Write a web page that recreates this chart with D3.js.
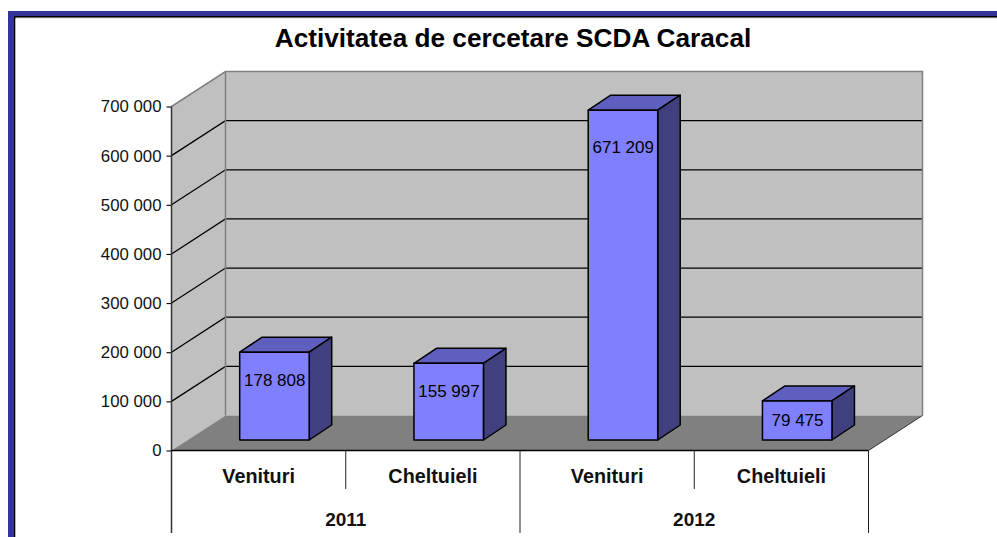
<!DOCTYPE html>
<html><head><meta charset="utf-8">
<script src="https://cdn.jsdelivr.net/npm/d3@7"></script>
<style>html,body{margin:0;padding:0;background:#fff;overflow:hidden}svg{display:block}text{font-family:"Liberation Sans",Arial,sans-serif}</style>
</head><body>
<svg id="c" width="997" height="537"></svg>
<script>
const titleText = "Activitatea de cercetare SCDA Caracal";
const years = ["2011", "2012"];
const measures = ["Venituri", "Cheltuieli", "Venituri", "Cheltuieli"];
const yearOf = ["2011", "2011", "2012", "2012"];
const values = [178808, 155997, 671209, 79475];
const valueLabels = ["178 808", "155 997", "671 209", "79 475"];
const yTicks = [0, 100000, 200000, 300000, 400000, 500000, 600000, 700000];

const svg = d3.select("#c");
const ox = 171.5, xEnd = 868.5, yBase = 450.5, yTop = 106.5, depthX = 54, depthY = -35;
const barW = 69.5, barDX = 22.5, barDY = -15, barOffX = 68.2, barOffY = -10.5;

const idx = d3.range(values.length);
const x = d3.scaleBand().domain(idx).range([ox, xEnd]);
const y = d3.scaleLinear().domain([0, 700000]).range([yBase, yTop]);
const fmt = v => d3.format(",")(v).replace(/,/g, " ");
const poly = pts => pts.map(p => p.join(",")).join(" ");

// frame
svg.append("rect").attr("x", 8).attr("y", 11).attr("width", 989).attr("height", 526).attr("fill", "#333399");
svg.append("rect").attr("x", 14).attr("y", 16).attr("width", 983).attr("height", 521).attr("fill", "#000");
svg.append("rect").attr("x", 15.5).attr("y", 17.5).attr("width", 982).attr("height", 520).attr("fill", "#d8d8d8");
svg.append("rect").attr("x", 15.5).attr("y", 18.5).attr("width", 982).attr("height", 519).attr("fill", "#fff");

svg.append("text").attr("x", 513).attr("y", 47).attr("text-anchor", "middle")
  .attr("font-size", 26.2).attr("font-weight", "bold").attr("fill", "#000").text(titleText);

// walls
const wx0 = ox + depthX, wx1 = xEnd + depthX, wallTop = yTop + depthY, wallBase = yBase + depthY;
svg.append("polygon").attr("points", poly([[ox, yBase], [wx0, wallBase], [wx0, wallTop], [ox, yTop]])).attr("fill", "#c0c0c0");
svg.append("rect").attr("x", wx0).attr("y", wallTop).attr("width", wx1 - wx0).attr("height", wallBase - wallTop).attr("fill", "#c0c0c0");

// grid
const gridTicks = yTicks.filter(t => t > 0 && t < 700000);
svg.append("g").selectAll("polyline").data(gridTicks).join("polyline")
  .attr("fill", "none").attr("stroke", "#000").attr("stroke-width", 1.3)
  .attr("points", d => poly([[ox, y(d)], [wx0, y(d) + depthY], [wx1, y(d) + depthY]]));

// wall edges
svg.append("polyline").attr("fill", "none").attr("stroke", "#808080").attr("stroke-width", 1.5)
  .attr("points", poly([[ox, yTop], [wx0, wallTop], [wx1, wallTop], [wx1, wallBase]]));
svg.append("line").attr("x1", wx0).attr("x2", wx0).attr("y1", wallTop).attr("y2", wallBase).attr("stroke", "#808080").attr("stroke-width", 1.5);

// floor
svg.append("polygon").attr("points", poly([[ox, yBase], [wx0, wallBase], [wx1, wallBase], [xEnd, yBase]])).attr("fill", "#808080");
svg.append("line").attr("x1", xEnd).attr("y1", yBase).attr("x2", wx1).attr("y2", wallBase).attr("stroke", "#333").attr("stroke-width", 1);

// bars
const bars = svg.append("g").selectAll("g").data(idx).join("g");
const bL = i => x(i) + barOffX, bR = i => bL(i) + barW, bB = yBase + barOffY, bT = i => y(values[i]) + barOffY;
const st = s => s.attr("stroke", "#000").attr("stroke-width", 1.5).attr("stroke-linejoin", "round");
bars.append("polygon").call(st).attr("fill", "#5f5fbf")
  .attr("points", i => poly([[bL(i), bT(i)], [bL(i) + barDX, bT(i) + barDY], [bR(i) + barDX, bT(i) + barDY], [bR(i), bT(i)]]));
bars.append("polygon").call(st).attr("fill", "#40407f")
  .attr("points", i => poly([[bR(i), bT(i)], [bR(i) + barDX, bT(i) + barDY], [bR(i) + barDX, bB + barDY], [bR(i), bB]]));
bars.append("rect").call(st).attr("fill", "#8080ff")
  .attr("x", bL).attr("y", bT).attr("width", barW).attr("height", i => bB - bT(i));
bars.append("text").attr("text-anchor", "middle").attr("font-size", 17).attr("fill", "#000")
  .attr("x", i => bL(i) + barW / 2 + 0.3)
  .attr("y", i => { const h = bB - bT(i); return bT(i) + Math.min(h / 2, 28 + (h - 88) * 0.037) + 6; })
  .text(i => valueLabels[i]);

// y axis
const axis = d3.axisLeft(y).tickValues(yTicks).tickFormat(fmt).tickSize(5).tickPadding(5);
const ag = svg.append("g").attr("transform", `translate(${ox},0)`).call(axis);
ag.select(".domain").remove();
ag.selectAll("line").attr("stroke", "#000").attr("stroke-width", 1.1);
ag.selectAll("text").attr("font-size", 16.8).attr("font-family", "Liberation Sans").attr("fill", "#111");
svg.append("line").attr("x1", ox).attr("x2", ox).attr("y1", yTop).attr("y2", 533).attr("stroke", "#333").attr("stroke-width", 1.5);
svg.append("line").attr("x1", ox).attr("x2", xEnd).attr("y1", yBase).attr("y2", yBase).attr("stroke", "#000").attr("stroke-width", 1.5);

// category table
const bottomLong = 533, bottomShort = 489;
const seps = d3.range(1, idx.length + 1);
svg.append("g").selectAll("line").data(seps).join("line")
  .attr("x1", i => i < idx.length ? x(i) : xEnd).attr("x2", i => i < idx.length ? x(i) : xEnd)
  .attr("y1", yBase).attr("y2", i => i % 2 === 0 ? bottomLong : bottomShort)
  .attr("stroke", "#222").attr("stroke-width", 1);
svg.append("g").selectAll("text").data(idx).join("text")
  .attr("x", i => x(i) + x.bandwidth() / 2).attr("y", 483).attr("text-anchor", "middle")
  .attr("font-size", 19.8).attr("font-weight", "bold").attr("fill", "#111").text(i => measures[i]);
svg.append("g").selectAll("text").data(years).join("text")
  .attr("x", yr => { const m = idx.filter(i => yearOf[i] === yr); return (x(m[0]) + x(m[m.length - 1]) + x.bandwidth()) / 2; })
  .attr("y", 526).attr("text-anchor", "middle")
  .attr("font-size", 19).attr("font-weight", "bold").attr("fill", "#111").text(d => d);
</script>
</body></html>
